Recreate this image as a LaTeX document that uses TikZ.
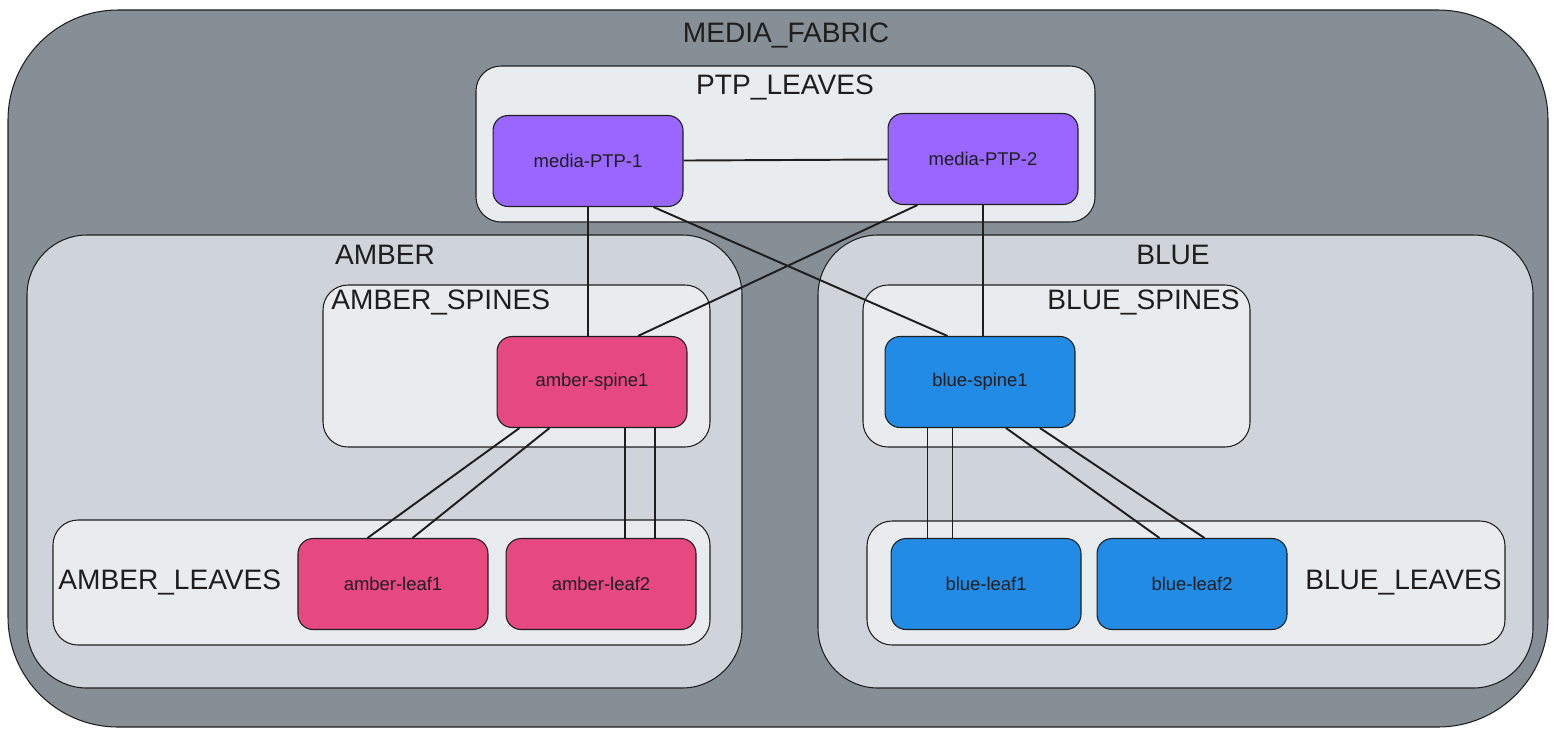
\documentclass[tikz,border=0pt]{standalone}
\usepackage{fontspec}
\setmainfont{Liberation Sans}
\usepackage{xcolor}
\usepackage{tikz}
\usetikzlibrary{positioning,calc}

\definecolor{fabricgray}{HTML}{868E96}
\definecolor{zonegray}{HTML}{CED4DA}
\definecolor{groupgray}{HTML}{E9ECEF}
\definecolor{ptpviolet}{HTML}{9966FF}
\definecolor{amberpink}{HTML}{E64980}
\definecolor{blueblue}{HTML}{228BE6}
\definecolor{ink}{HTML}{1E1E1E}

\begin{document}
\begin{tikzpicture}[x=0.02cm, y=-0.02cm]
        \tikzstyle{fabric} = [draw=ink, fill=fabricgray, line width=0.6pt, rounded corners=2.2cm]
        \tikzstyle{zone} = [draw=ink, fill=zonegray, line width=0.6pt, rounded corners=1.2cm]
        \tikzstyle{grp} = [draw=ink, fill=groupgray, line width=0.6pt, rounded corners=0.5cm]
        \tikzstyle{device} = [rectangle, draw=ink, line width=0.6pt, rounded corners=0.3cm, minimum width=3.8cm, minimum height=1.82cm, text=ink, font=\fontsize{10.5}{12}\selectfont]
        \tikzstyle{title} = [text=ink, font=\fontsize{16}{19}\selectfont, inner sep=0pt]
        \tikzstyle{line} = [draw=ink, line width=1.1pt]

        \useasboundingbox (0,0) rectangle (1557,735);

        % containers
        \draw [fabric] (8,10) rectangle (1548,727);
        \draw [grp] (476,66) rectangle (1095,222);
        \draw [zone] (27,235) rectangle (742,688);
        \draw [zone] (818,235) rectangle (1533,688);
        \draw [grp] (323,285) rectangle (710,447);
        \draw [grp] (53,520) rectangle (710,645);
        \draw [grp] (863,285) rectangle (1250,447);
        \draw [grp] (867,521) rectangle (1505,645);

        \node [title] (fabriclbl) at (786,35) {MEDIA\_FABRIC};
        \node [title] (ptplbl) at (785,87) {PTP\_LEAVES};
        \node [title] (amberlbl) at (385,255) {AMBER};
        \node [title] (bluelbl) at (1173,255) {BLUE};
        \node [title, anchor=west] (amberspinelbl) at (331,302) {AMBER\_SPINES};
        \node [title, anchor=east] (bluespinelbl) at (1240,302) {BLUE\_SPINES};
        \node [title, anchor=west] (amberleaflbl) at (58,582) {AMBER\_LEAVES};
        \node [title, anchor=east] (blueleaflbl) at (1502,582) {BLUE\_LEAVES};

        % devices
        \node [device, fill=ptpviolet] (ptp1) at (588,161) {media-PTP-1};
        \node [device, fill=ptpviolet] (ptp2) at (983,159) {media-PTP-2};
        \node [device, fill=amberpink] (aspine) at (592,382) {amber-spine1};
        \node [device, fill=amberpink] (aleaf1) at (393,584) {amber-leaf1};
        \node [device, fill=amberpink, right=0.34cm of aleaf1] (aleaf2) {amber-leaf2};
        \node [device, fill=blueblue] (bspine) at (980,382) {blue-spine1};
        \node [device, fill=blueblue] (bleaf1) at (986,584) {blue-leaf1};
        \node [device, fill=blueblue, right=0.3cm of bleaf1] (bleaf2) {blue-leaf2};

        \path [line] (ptp1) -- (ptp2);
        \path [line] (ptp1.south) -- (ptp1.south |- aspine.north);
        \path [line] ([xshift=-0.6cm]ptp1.south east) -- ([xshift=1.26cm]bspine.north west);
        \path [line] ([xshift=0.6cm]ptp2.south west) -- ([xshift=0.92cm]aspine.north);
        \path [line] (ptp2.south) -- (ptp2.south |- bspine.north);

        \path [line] ([xshift=0.46cm]aspine.south west) -- ([xshift=1.4cm]aleaf1.north west);
        \path [line] ([xshift=1.06cm]aspine.south west) -- ([xshift=2.3cm]aleaf1.north west);
        \path [line] ([xshift=0.66cm]aspine.south) -- ([xshift=0.66cm]aspine.south |- aleaf2.north);
        \path [line] ([xshift=1.26cm]aspine.south) -- ([xshift=1.26cm]aspine.south |- aleaf2.north);

        \path [line] ([xshift=0.86cm]bspine.south west) -- ([xshift=0.86cm]bspine.south west |- bleaf1.north);
        \path [line] ([xshift=1.36cm]bspine.south west) -- ([xshift=1.36cm]bspine.south west |- bleaf1.north);
        \path [line] ([xshift=0.52cm]bspine.south) -- ([xshift=1.26cm]bleaf2.north west);
        \path [line] ([xshift=1.2cm]bspine.south) -- ([xshift=2.16cm]bleaf2.north west);
\end{tikzpicture}
\end{document}
